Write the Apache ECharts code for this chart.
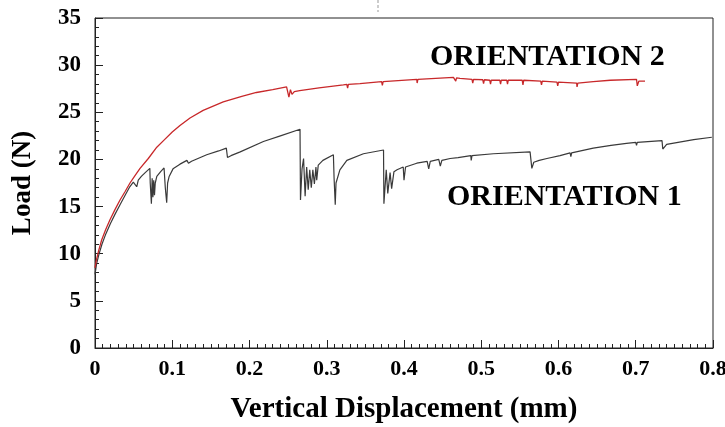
<!DOCTYPE html>
<html>
<head>
<meta charset="utf-8">
<script src="https://cdn.jsdelivr.net/npm/echarts@6/dist/echarts.min.js"></script>
<style>html,body{margin:0;padding:0;background:#fff;}#c{width:725px;height:427px;}</style>
</head>
<body>
<div id="c"></div>
<script>
const xTicks = [0, 0.1, 0.2, 0.3, 0.4, 0.5, 0.6, 0.7, 0.8];
const yTicks = [0, 5, 10, 15, 20, 25, 30, 35];
const seriesNames = ['ORIENTATION 2', 'ORIENTATION 1'];

const orientation2 = [
  [0,8.5],[0.0017,9.3],[0.005,10.4],[0.0086,11.45],[0.014,12.6],[0.0194,13.6],[0.026,14.7],[0.0324,15.7],
  [0.039,16.6],[0.0453,17.5],[0.052,18.3],[0.0583,19.05],[0.069,20.1],[0.08,21.3],[0.09,22.1],[0.1,22.9],
  [0.11,23.6],[0.123,24.4],[0.14,25.2],[0.166,26.1],[0.19,26.7],[0.209,27.1],[0.23,27.4],[0.248,27.7],[0.250,27.75],
  [0.251,26.6],[0.253,27.4],[0.255,26.9],[0.258,27.2],[0.265,27.3],[0.29,27.6],[0.3215,27.9],
  [0.326,27.95],[0.327,27.55],[0.328,27.95],[0.343,28.05],[0.371,28.25],[0.372,27.85],[0.373,28.25],
  [0.4165,28.5],[0.417,28.1],[0.418,28.5],[0.464,28.7],[0.466,28.7],[0.467,28.3],[0.468,28.65],
  [0.4725,28.6],[0.488,28.5],[0.489,28.1],[0.490,28.5],[0.502,28.45],[0.503,28.05],[0.504,28.45],
  [0.511,28.4],[0.512,28.0],[0.513,28.4],[0.524,28.4],[0.525,28.0],[0.526,28.4],[0.533,28.4],
  [0.534,28.0],[0.535,28.4],[0.553,28.4],[0.554,27.9],[0.555,28.4],[0.577,28.3],[0.578,27.9],
  [0.579,28.3],[0.598,28.2],[0.599,27.8],[0.600,28.2],[0.6235,28.1],[0.624,27.7],[0.625,28.1],
  [0.645,28.25],[0.667,28.4],[0.701,28.5],[0.702,27.8],[0.704,28.3],[0.712,28.3]
];

const orientation1 = [
  [0,7.8],[0.002,8.9],[0.005,9.9],[0.009,11.0],[0.014,12.1],[0.02,13.2],[0.026,14.2],[0.0324,15.2],
  [0.039,16.2],[0.045,17.1],[0.0496,17.6],[0.052,17.8],[0.054,17.1],[0.056,17.8],[0.06,18.2],[0.065,18.6],[0.071,19.05],
  [0.0715,17.5],[0.073,15.3],[0.074,18.0],[0.075,16.0],[0.076,17.8],[0.077,16.2],[0.078,17.5],
  [0.08,18.2],[0.085,18.7],[0.0894,19.1],[0.091,17.0],[0.0928,15.4],[0.094,17.5],[0.096,18.2],
  [0.101,19.0],[0.11,19.5],[0.119,19.9],[0.121,19.6],[0.125,19.8],[0.1446,20.5],[0.16,20.9],
  [0.170,21.2],[0.1715,20.2],[0.176,20.4],[0.188,20.8],[0.218,21.9],[0.24,22.5],[0.2654,23.2],
  [0.266,15.7],[0.268,19.0],[0.270,20.1],[0.272,16.1],[0.274,19.2],[0.276,16.8],[0.278,18.9],
  [0.280,17.0],[0.282,18.9],[0.284,17.4],[0.286,19.2],[0.287,17.8],[0.289,19.4],[0.295,19.9],
  [0.3086,20.5],[0.3095,18.0],[0.311,15.2],[0.312,17.5],[0.317,18.9],[0.326,19.9],[0.3475,20.6],
  [0.3735,21.0],[0.374,15.3],[0.377,18.9],[0.379,16.4],[0.382,18.6],[0.384,16.9],[0.387,18.7],
  [0.391,18.9],[0.399,19.2],[0.400,17.8],[0.402,19.2],[0.4165,19.6],[0.43,19.8],[0.432,19.0],
  [0.434,19.8],[0.445,20.0],[0.447,19.3],[0.449,19.9],[0.4597,20.1],[0.47,20.2],[0.4725,20.3],
  [0.4865,20.4],[0.487,19.9],[0.488,20.4],[0.5157,20.6],[0.5632,20.8],[0.5655,19.05],[0.568,19.7],
  [0.575,19.9],[0.585,20.1],[0.602,20.4],[0.615,20.7],[0.616,20.3],[0.617,20.7],[0.645,21.2],
  [0.668,21.5],[0.688,21.7],[0.7,21.8],[0.701,21.5],[0.702,21.8],[0.734,22.0],[0.735,21.1],
  [0.74,21.6],[0.775,22.1],[0.7985,22.35]
];

const chart = echarts.init(document.getElementById('c'), null, {renderer: 'canvas'});
const serif = '"Liberation Serif", "Times New Roman", serif';
const labelFmt = v => (v === 0 ? '0' : String(Math.round(v * 10) / 10));

chart.setOption({
  animation: false,
  backgroundColor: '#fff',
  grid: { left: 95, right: 12, top: 18, bottom: 79, show: true, borderColor: '#222', borderWidth: 1,
          containLabel: false, outerBoundsMode: 'none' },
  xAxis: {
    type: 'value', min: xTicks[0], max: xTicks[xTicks.length - 1], interval: 0.1,
    name: 'Vertical Displacement (mm)', nameLocation: 'middle', nameGap: 47,
    nameTextStyle: { fontFamily: serif, fontWeight: 'bold', fontSize: 29, color: '#000' },
    axisLine: { lineStyle: { color: '#222', width: 1 } },
    axisTick: { inside: true, length: 8, lineStyle: { color: '#222' } },
    minorTick: { show: true, splitNumber: 10, length: 4, lineStyle: { color: '#222' } },
    splitLine: { show: false },
    axisLabel: { fontFamily: serif, fontWeight: 'bold', fontSize: 22, color: '#000', margin: 10, formatter: labelFmt }
  },
  yAxis: {
    type: 'value', min: yTicks[0], max: yTicks[yTicks.length - 1], interval: 5,
    name: 'Load (N)', nameLocation: 'middle', nameGap: 58, nameRotate: 90,
    nameTextStyle: { fontFamily: serif, fontWeight: 'bold', fontSize: 27, color: '#000' },
    axisLine: { show: true, lineStyle: { color: '#222', width: 1 } },
    axisTick: { inside: true, length: 8, lineStyle: { color: '#222' } },
    minorTick: { show: true, splitNumber: 5, length: 4, lineStyle: { color: '#222' } },
    splitLine: { show: false },
    axisLabel: { fontFamily: serif, fontWeight: 'bold', fontSize: 23, color: '#000', margin: 14 }
  },
  series: [
    { name: seriesNames[0], type: 'line', data: orientation2, showSymbol: false, symbol: 'none',
      lineStyle: { color: '#c8282a', width: 1.3 }, z: 3 },
    { name: seriesNames[1], type: 'line', data: orientation1, showSymbol: false, symbol: 'none',
      lineStyle: { color: '#3a3a3a', width: 1.2 }, z: 2 }
  ],
  graphic: [
    { type: 'text', left: 430, top: 42, style: { text: seriesNames[0], fontFamily: serif, fontWeight: 'bold', fontSize: 30, fill: '#000' } },
    { type: 'text', left: 447, top: 182, style: { text: seriesNames[1], fontFamily: serif, fontWeight: 'bold', fontSize: 30, fill: '#000' } },
    { type: 'line', shape: { x1: 378, y1: 0, x2: 378, y2: 12 }, style: { stroke: '#999', lineWidth: 1, lineDash: [3, 2] } }
  ]
});
</script>
</body>
</html>
